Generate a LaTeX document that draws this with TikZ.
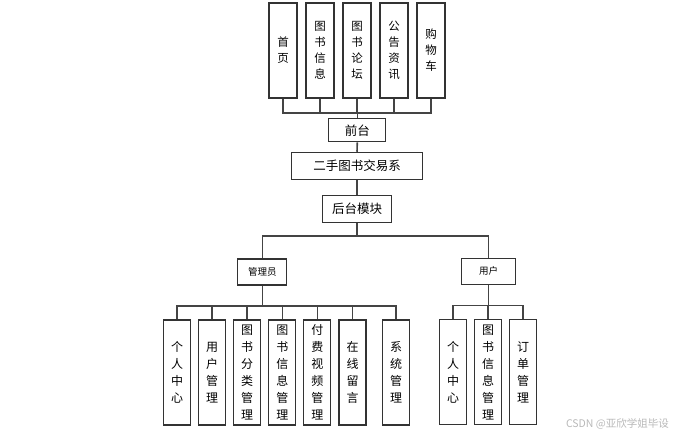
\documentclass[tikz,border=0pt]{standalone}
\usepackage{fontspec}
\newfontfamily\cjk{Noto Sans CJK SC}
\definecolor{boxc}{HTML}{333333}
\definecolor{linec}{HTML}{444444}
\definecolor{wmc}{HTML}{B8B8B8}
\tikzset{
  vbox/.style={draw=boxc, line width=1.1pt, fill=white, inner sep=0pt, align=center,
    minimum width=28pt, minimum height=95pt, font=\cjk\fontsize{11.5}{16}\selectfont},
  lbox/.style={draw=boxc, line width=1.1pt, fill=white, inner sep=0pt, align=center,
    minimum width=27pt, minimum height=105pt, font=\cjk\fontsize{12}{17}\selectfont},
  hbox/.style={draw=boxc, line width=1.1pt, fill=white, inner sep=0pt,
    font=\cjk\fontsize{12.5}{15}\selectfont},
  sbox/.style={draw=boxc, line width=1.1pt, fill=white, inner sep=0pt,
    font=\cjk\fontsize{9.5}{12}\selectfont},
  conn/.style={draw=linec, line width=1.6pt}
}
\begin{document}
\begin{tikzpicture}[x=1pt,y=-1pt]
\useasboundingbox (0,0) rectangle (676,437);
% top level
\node[vbox] (t1) at (283,50.5) {首\\页};
\node[vbox] (t2) at (320,50.5) {图\\书\\信\\息};
\node[vbox] (t3) at (357,50.5) {图\\书\\论\\坛};
\node[vbox] (t4) at (394,50.5) {公\\告\\资\\讯};
\node[vbox] (t5) at (431,50.5) {购\\物\\车};
\node[hbox, minimum width=57pt, minimum height=23pt] (qt) at (357.3,130.3) {前台};
\node[hbox, minimum width=131pt, minimum height=27pt] (sys) at (357,165.8) {二手图书交易系};
\node[hbox, minimum width=69pt, minimum height=27pt] (ht) at (357,208.6) {后台模块};
\node[sbox, minimum width=49pt, minimum height=26pt] (gl) at (262.3,272) {管理员};
\node[sbox, minimum width=54pt, minimum height=26pt] (yh) at (488.5,271.3) {用户};
% admin leaves
\node[lbox] (a1) at (177,372.5) {个\\人\\中\\心};
\node[lbox] (a2) at (212,372.5) {用\\户\\管\\理};
\node[lbox] (a3) at (247,372.5) {图\\书\\分\\类\\管\\理};
\node[lbox] (a4) at (282.3,372.5) {图\\书\\信\\息\\管\\理};
\node[lbox] (a5) at (317.3,372.5) {付\\费\\视\\频\\管\\理};
\node[lbox] (a6) at (352.5,372.5) {在\\线\\留\\言};
\node[lbox] (a7) at (396,372.5) {系\\统\\管\\理};
% user leaves
\node[lbox] (u1) at (453,372) {个\\人\\中\\心};
\node[lbox] (u2) at (488,372) {图\\书\\信\\息\\管\\理};
\node[lbox] (u3) at (523,372) {订\\单\\管\\理};
% bus coordinates
\coordinate (bus1) at (357,112.7);
\coordinate (bus2) at (357,235.7);
\coordinate (bus3) at (262.3,306);
\coordinate (bus4) at (488.5,305.3);
% connectors
\foreach \n in {t1,t2,t3,t4,t5}
  \draw[conn] (\n.south) -- (\n.south |- bus1) -| (qt.north);
\draw[conn] (qt.south) -- (sys.north);
\draw[conn] (sys.south) -- (ht.north);
\draw[conn] (ht.south) -- (bus2) -| (gl.north);
\draw[conn] (bus2) -| (yh.north);
\foreach \n in {a1,a2,a3,a4,a5,a6,a7}
  \draw[conn] (\n.north) -- (\n.north |- bus3) -| (gl.south);
\foreach \n in {u1,u2,u3}
  \draw[conn] (\n.north) -- (\n.north |- bus4) -| (yh.south);
% watermark
\node[font=\cjk\fontsize{10.5}{12}\selectfont, text=wmc, anchor=east, inner sep=0pt] (wm) at (669,424) {CSDN @亚欣学姐毕设};
\end{tikzpicture}
\end{document}
